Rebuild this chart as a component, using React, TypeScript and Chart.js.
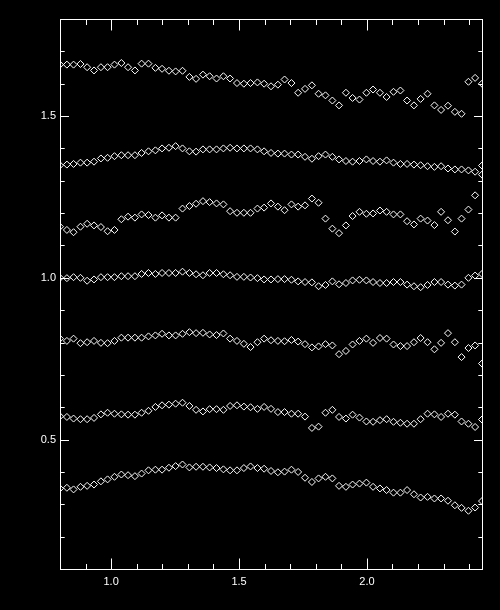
import React, { useEffect, useRef } from "react";
import { Chart, registerables } from "chart.js";

Chart.register(...registerables);

const xValues = [
  0.8, 0.827, 0.853, 0.88, 0.906, 0.933, 0.96, 0.986, 1.013, 1.04, 1.066, 1.093, 1.119, 1.146, 1.173, 1.199,
  1.226, 1.252, 1.279, 1.306, 1.332, 1.359, 1.385, 1.412, 1.439, 1.465, 1.492, 1.519, 1.545, 1.572, 1.598,
  1.625, 1.652, 1.678, 1.705, 1.731, 1.758, 1.785, 1.811, 1.838, 1.865, 1.891, 1.918, 1.944, 1.971, 1.998,
  2.024, 2.051, 2.077, 2.104, 2.131, 2.157, 2.184, 2.21, 2.237, 2.264, 2.29, 2.317, 2.344, 2.37, 2.397,
  2.423, 2.45,
];

const series1 = [
  1.659, 1.659, 1.659, 1.661, 1.651, 1.641, 1.651, 1.651, 1.659, 1.664, 1.651, 1.641, 1.662, 1.662, 1.649,
  1.646, 1.64, 1.638, 1.64, 1.621, 1.615, 1.628, 1.623, 1.616, 1.623, 1.616, 1.602, 1.6, 1.602, 1.604, 1.6,
  1.592, 1.597, 1.613, 1.602, 1.572, 1.584, 1.595, 1.569, 1.564, 1.548, 1.533, 1.572, 1.556, 1.551, 1.572,
  1.582, 1.572, 1.559, 1.575, 1.579, 1.548, 1.533, 1.553, 1.569, 1.533, 1.519, 1.532, 1.513, 1.507, 1.606,
  1.618, 1.6,
];
const series2 = [
  1.348, 1.35, 1.352, 1.356, 1.356, 1.359, 1.369, 1.371, 1.376, 1.379, 1.379, 1.379, 1.386, 1.391, 1.394,
  1.4, 1.402, 1.407, 1.4, 1.391, 1.39, 1.397, 1.397, 1.397, 1.4, 1.402, 1.4, 1.4, 1.4, 1.397, 1.391, 1.386,
  1.384, 1.384, 1.381, 1.381, 1.374, 1.368, 1.376, 1.381, 1.374, 1.366, 1.361, 1.359, 1.361, 1.366, 1.361,
  1.359, 1.363, 1.356, 1.352, 1.352, 1.35, 1.348, 1.345, 1.343, 1.345, 1.338, 1.335, 1.335, 1.332, 1.328,
  1.319,
];
const series3 = [
  1.158, 1.148, 1.141, 1.158, 1.167, 1.162, 1.157, 1.144, 1.148, 1.181, 1.189, 1.186, 1.196, 1.194, 1.186,
  1.193, 1.186, 1.186, 1.214, 1.222, 1.229, 1.237, 1.234, 1.23, 1.227, 1.206, 1.201, 1.201, 1.201, 1.214,
  1.217, 1.23, 1.22, 1.209, 1.227, 1.22, 1.224, 1.245, 1.232, 1.183, 1.152, 1.138, 1.162, 1.191, 1.204,
  1.198, 1.199, 1.208, 1.204, 1.196, 1.196, 1.175, 1.165, 1.183, 1.177, 1.163, 1.204, 1.178, 1.143, 1.183,
  1.211, 1.255, 1.347,
];
const series4 = [
  1.0, 0.999, 1.002, 1.0, 0.991, 0.995, 1.002, 1.002, 1.002, 1.005, 1.005, 1.005, 1.012, 1.015, 1.012, 1.015,
  1.015, 1.015, 1.019, 1.015, 1.011, 1.008, 1.015, 1.015, 1.011, 1.008, 1.003, 1.003, 1.001, 0.999, 0.995,
  0.995, 0.996, 0.996, 0.994, 0.989, 0.987, 0.986, 0.974, 0.978, 0.989, 0.98, 0.984, 0.992, 0.994, 0.992,
  0.987, 0.984, 0.984, 0.987, 0.987, 0.979, 0.974, 0.971, 0.978, 0.987, 0.987, 0.979, 0.976, 0.979, 1.0,
  1.007, 1.012,
];
const series5 = [
  0.812, 0.805, 0.812, 0.798, 0.801, 0.805, 0.799, 0.798, 0.805, 0.815, 0.815, 0.815, 0.815, 0.819, 0.822,
  0.827, 0.822, 0.822, 0.827, 0.832, 0.829, 0.83, 0.825, 0.823, 0.828, 0.812, 0.805, 0.796, 0.786, 0.801,
  0.812, 0.807, 0.805, 0.804, 0.808, 0.803, 0.795, 0.785, 0.788, 0.795, 0.791, 0.764, 0.774, 0.794, 0.805,
  0.812, 0.799, 0.814, 0.812, 0.794, 0.789, 0.789, 0.801, 0.814, 0.801, 0.779, 0.799, 0.829, 0.801, 0.755,
  0.783, 0.791, 0.735,
];
const series6 = [
  0.572, 0.57, 0.565, 0.563, 0.563, 0.567, 0.578, 0.583, 0.58, 0.578, 0.577, 0.577, 0.583, 0.589, 0.601,
  0.606, 0.608, 0.611, 0.614, 0.604, 0.592, 0.587, 0.594, 0.594, 0.592, 0.604, 0.606, 0.602, 0.6, 0.595,
  0.601, 0.595, 0.585, 0.585, 0.58, 0.58, 0.571, 0.536, 0.54, 0.583, 0.592, 0.57, 0.565, 0.577, 0.568, 0.556,
  0.555, 0.56, 0.563, 0.555, 0.552, 0.549, 0.549, 0.563, 0.58, 0.578, 0.57, 0.58, 0.577, 0.556, 0.549, 0.539,
  0.562,
];
const series7 = [
  0.349, 0.351, 0.346, 0.354, 0.357, 0.361, 0.371, 0.377, 0.385, 0.392, 0.39, 0.387, 0.395, 0.405, 0.407,
  0.407, 0.413, 0.418, 0.423, 0.414, 0.416, 0.416, 0.414, 0.412, 0.408, 0.405, 0.405, 0.412, 0.417, 0.412,
  0.41, 0.403, 0.399, 0.401, 0.407, 0.4, 0.382, 0.369, 0.38, 0.385, 0.38, 0.357, 0.354, 0.361, 0.364, 0.367,
  0.354, 0.349, 0.344, 0.336, 0.336, 0.344, 0.331, 0.321, 0.323, 0.318, 0.318, 0.311, 0.297, 0.289, 0.28,
  0.29, 0.31,
];

const allSeries = [series1, series2, series3, series4, series5, series6, series7];

const xLabelTicks = [1.0, 1.5, 2.0];
const yLabelTicks = [0.5, 1.0, 1.5];
const xMinorTicks = [0.9, 1.1, 1.2, 1.3, 1.4, 1.6, 1.7, 1.8, 1.9, 2.1, 2.2, 2.3, 2.4];
const yMinorTicks = [0.2, 0.3, 0.4, 0.6, 0.7, 0.8, 0.9, 1.1, 1.2, 1.3, 1.4, 1.6, 1.7];

const framePlugin = {
  id: "idlFrame",
  beforeDraw(chart: any) {
    const { ctx, width, height } = chart;
    ctx.save();
    ctx.fillStyle = "#000";
    ctx.fillRect(0, 0, width, height);
    ctx.restore();
  },
  afterDraw(chart: any) {
    const { ctx, chartArea } = chart;
    const xs = chart.scales.x;
    const ys = chart.scales.y;
    const l = Math.round(chartArea.left) + 0.5;
    const r = Math.round(chartArea.right) + 0.5;
    const t = Math.round(chartArea.top) + 0.5;
    const b = Math.round(chartArea.bottom) + 0.5;
    ctx.save();
    ctx.strokeStyle = "#fff";
    ctx.lineWidth = 1;
    ctx.strokeRect(l, t, r - l, b - t);
    ctx.beginPath();
    const xTick = (v: number, len: number) => {
      const p = Math.round(xs.getPixelForValue(v)) + 0.5;
      ctx.moveTo(p, b);
      ctx.lineTo(p, b - len);
      ctx.moveTo(p, t);
      ctx.lineTo(p, t + len);
    };
    const yTick = (v: number, len: number) => {
      const p = Math.round(ys.getPixelForValue(v)) + 0.5;
      ctx.moveTo(l, p);
      ctx.lineTo(l + len, p);
      ctx.moveTo(r, p);
      ctx.lineTo(r - len, p);
    };
    xLabelTicks.forEach((v) => xTick(v, 11));
    xMinorTicks.forEach((v) => xTick(v, 5.5));
    yLabelTicks.forEach((v) => yTick(v, 8.5));
    yMinorTicks.forEach((v) => yTick(v, 4.2));
    ctx.stroke();
    ctx.restore();
  },
};

export default function App() {
  const canvasRef = useRef<HTMLCanvasElement | null>(null);

  useEffect(() => {
    document.body.style.margin = "0";
    document.body.style.background = "#000";
    const canvas = canvasRef.current;
    if (!canvas) return;
    const datasets = allSeries.map((s, k) => ({
      label: "S" + (k + 1),
      data: xValues.map((x, i) => ({ x, y: s[i] })),
      showLine: false,
      pointStyle: "rectRot" as const,
      pointRadius: 3.5,
      pointBorderWidth: 1,
      borderColor: "#fff",
      pointBorderColor: "#fff",
      backgroundColor: "rgba(0,0,0,0)",
      pointBackgroundColor: "rgba(0,0,0,0)",
      clip: 0,
    }));
    const font = { family: "'Liberation Sans', Arial, sans-serif", size: 11 };
    const chart = new Chart(canvas, {
      type: "scatter",
      data: { datasets },
      plugins: [framePlugin],
      options: {
        animation: false,
        responsive: false,
        events: [],
        layout: { padding: { top: 19, right: 18, left: 0, bottom: 0 } },
        plugins: { legend: { display: false }, tooltip: { enabled: false } },
        scales: {
          x: {
            type: "linear",
            min: 0.8,
            max: 2.45,
            grid: { display: false, drawTicks: false },
            border: { display: false },
            afterFit: (s: any) => {
              s.height = 41;
            },
            afterBuildTicks: (s: any) => {
              s.ticks = xLabelTicks.map((v) => ({ value: v }));
            },
            ticks: {
              color: "#fff",
              font,
              padding: 6,
              maxRotation: 0,
              autoSkip: false,
              callback: (v: any) => Number(v).toFixed(1),
            },
          },
          y: {
            type: "linear",
            min: 0.1,
            max: 1.8,
            grid: { display: false, drawTicks: false },
            border: { display: false },
            afterFit: (s: any) => {
              s.width = 60;
            },
            afterBuildTicks: (s: any) => {
              s.ticks = yLabelTicks.map((v) => ({ value: v }));
            },
            ticks: {
              color: "#fff",
              font,
              padding: 4,
              autoSkip: false,
              callback: (v: any) => Number(v).toFixed(1),
            },
          },
        },
      },
    });
    return () => chart.destroy();
  }, []);

  return (
    <div style={{ width: 500, height: 610, background: "#000" }}>
      <canvas ref={canvasRef} width={500} height={610} style={{ display: "block" }} />
    </div>
  );
}
